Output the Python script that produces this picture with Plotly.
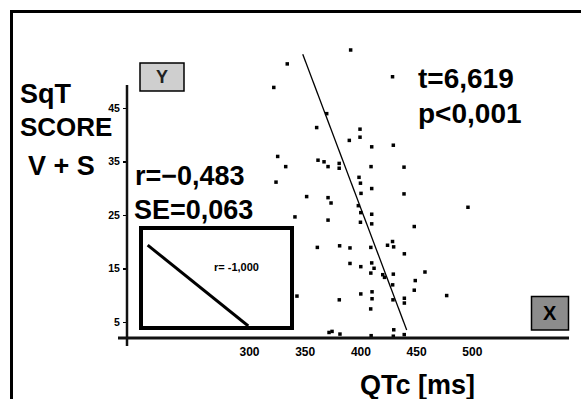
import plotly.graph_objects as go

# ---- data ----
qtc_ms = [390.8, 333.9, 428.4, 321.8, 369.3, 360.3, 399.2, 399.2, 389.6, 409.7,
          429.1, 325.3, 332.5, 361.5, 366.9, 370.5, 380.5, 380.5, 409.1, 438.7,
          323.8, 398.3, 399.6, 409.7, 351.3, 370.5, 438.7, 400.1, 373.2, 397.7,
          496.1, 340.8, 399.9, 409.7, 370.5, 399.6, 409.7, 447.9, 360.9, 380.9,
          390.2, 408.9, 423.9, 428.4, 429.4, 439.0, 390.2, 399.9, 409.7, 411.8,
          408.9, 419.6, 421.2, 429.1, 457.5, 448.8, 428.5, 399.9, 410.0, 410.0,
          428.8, 439.0, 439.0, 447.9, 477.0, 342.6, 380.6, 408.8, 371.4, 374.1,
          381.2, 409.2, 429.5, 429.1, 438.9]
sqt_score = [55.9, 53.3, 50.9, 48.9, 44.0, 41.4, 41.1, 39.6, 39.0, 37.8,
             38.1, 36.0, 34.1, 35.3, 35.0, 34.1, 34.7, 33.8, 34.1, 34.0,
             31.2, 32.1, 31.0, 30.0, 28.5, 28.3, 29.0, 29.1, 27.3, 26.8,
             26.5, 24.7, 25.5, 25.2, 24.1, 23.7, 23.4, 22.9, 19.0, 19.3,
             18.9, 19.0, 19.4, 20.1, 19.1, 17.8, 16.0, 15.4, 16.1, 15.1,
             14.2, 13.9, 13.4, 14.0, 14.4, 12.8, 12.0, 10.3, 10.7, 9.4,
             9.2, 9.5, 8.6, 11.0, 10.0, 9.9, 9.2, 7.5, 3.1, 3.3,
             2.8, 2.5, 3.6, 2.4, 2.7]

fit_x = [347.8, 441.1]
fit_y = [55.1, 3.56]

x_ticks = [300, 350, 400, 450, 500]
y_ticks = [5, 15, 25, 35, 45]

inset_x = [0.035, 0.717]
inset_y = [0.84, 0.0]

stat_r = "r=\u22120,483"
stat_se = "SE=0,063"
stat_t = "t=6,619"
stat_p = "p<0,001"
inset_label = "r= -1,000"
x_title = "QTc [ms]"
y_title_lines = ["SqT", "SCORE", "V + S"]

# ---- geometry (pixels) ----
W, H = 581, 399
L, R, T, B = 127, 575, 14, 338          # plot area edges in px
PW, PH = R - L, B - T


def px(x):
    return (x - L) / PW


def py(y):
    return (B - y) / PH


FONT = "Liberation Sans, Arial, Helvetica, sans-serif"

fig = go.Figure()

fig.add_trace(go.Scatter(
    x=qtc_ms, y=sqt_score, mode="markers",
    marker=dict(symbol="square", size=3.5, color="black", line=dict(width=0)),
    showlegend=False, cliponaxis=False))

fig.add_trace(go.Scatter(
    x=fit_x, y=fit_y, mode="lines",
    line=dict(color="black", width=1.3), showlegend=False))

fig.add_trace(go.Scatter(
    x=inset_x, y=inset_y, mode="lines", xaxis="x2", yaxis="y2",
    line=dict(color="black", width=3), showlegend=False))

# x: 300 -> 249.5 px, 1.114 px per ms ; y: 5 -> 322.3 px, 5.35 px per unit
xr = [300 - (249.5 - L) / 1.114, 300 + (R - 249.5) / 1.114]
yr = [5 - (B - 322.3) / 5.35, 5 + (322.3 - T) / 5.35]

fig.update_layout(
    width=W, height=H,
    margin=dict(l=L, r=W - R, t=T, b=H - B, pad=0),
    paper_bgcolor="white", plot_bgcolor="white",
    font=dict(family=FONT, color="black"),
    xaxis=dict(range=xr, tickvals=x_ticks, ticks="", showgrid=False,
               zeroline=False, showline=False,
               tickfont=dict(size=12, family=FONT, weight="bold"),
               ticklabelstandoff=5),
    yaxis=dict(range=yr, tickvals=y_ticks, ticks="outside", ticklen=3,
               tickwidth=1.5, tickcolor="black", showgrid=False,
               zeroline=False, showline=False,
               tickfont=dict(size=10.5, family=FONT, weight="bold"),
               ticklabelstandoff=1),
    xaxis2=dict(domain=[px(142.5), px(290)], anchor="y2", range=[0, 1],
                showticklabels=False, ticks="", showgrid=False, zeroline=False,
                showline=True, mirror=True, linewidth=3.5, linecolor="black"),
    yaxis2=dict(domain=[py(326), py(229.7)], anchor="x2", range=[0, 1],
                showticklabels=False, ticks="", showgrid=False, zeroline=False,
                showline=True, mirror=True, linewidth=3.5, linecolor="black"),
)

shapes = [
    # outer frame (top and left)
    dict(type="line", xref="paper", yref="paper", x0=px(11), x1=px(581),
         y0=py(11.5), y1=py(11.5), line=dict(color="black", width=3)),
    dict(type="line", xref="paper", yref="paper", x0=px(11.5), x1=px(11.5),
         y0=py(10), y1=py(399), line=dict(color="black", width=3)),
    # axis lines
    dict(type="line", xref="paper", yref="paper", x0=px(127), x1=px(127),
         y0=py(85), y1=py(346), line=dict(color="#111", width=2.5)),
    dict(type="line", xref="paper", yref="paper", x0=px(118), x1=px(569),
         y0=py(338), y1=py(338), line=dict(color="#111", width=3)),
    # Y and X boxes
    dict(type="rect", xref="paper", yref="paper", x0=px(140), x1=px(184),
         y0=py(91), y1=py(63), fillcolor="#cfcfcf",
         line=dict(color="black", width=1.5)),
    dict(type="rect", xref="paper", yref="paper", x0=px(531.5), x1=px(568.5),
         y0=py(330), y1=py(296.5), fillcolor="#8c8c8c",
         line=dict(color="black", width=1.5)),
]
fig.update_layout(shapes=shapes)

big = dict(family=FONT, size=27, color="black", weight="bold")


def ann(text, x, y, font, xanchor="left", yanchor="middle"):
    return dict(text=text, xref="paper", yref="paper", x=px(x), y=py(y),
                xanchor=xanchor, yanchor=yanchor, showarrow=False, font=font)


annotations = [
    ann(y_title_lines[0], 18, 94, big),
    ann(y_title_lines[1], 18, 127, dict(big, size=26)),
    ann(y_title_lines[2], 26, 166, big),
    ann(stat_r, 133, 176, big),
    ann(stat_se, 132, 210, big),
    ann(stat_t, 416, 78, dict(big, size=28)),
    ann(stat_p, 416, 113, dict(big, size=28)),
    ann(x_title, 358, 385, big),
    ann("Y", 162, 77, dict(family=FONT, size=18, color="#222", weight="bold"),
        xanchor="center"),
    ann("X", 550, 313, dict(family=FONT, size=20, color="black", weight="bold"),
        xanchor="center"),
    dict(text=inset_label, xref="x2", yref="y2", x=0.64, y=0.61,
         xanchor="center", yanchor="middle", showarrow=False,
         font=dict(family=FONT, size=11, color="black", weight="bold")),
]
fig.update_layout(annotations=annotations)

fig.write_html("out.html",
               config={"displayModeBar": False, "staticPlot": True},
               post_script="document.body.style.margin='0';"
                           "document.body.style.overflow='hidden';")
